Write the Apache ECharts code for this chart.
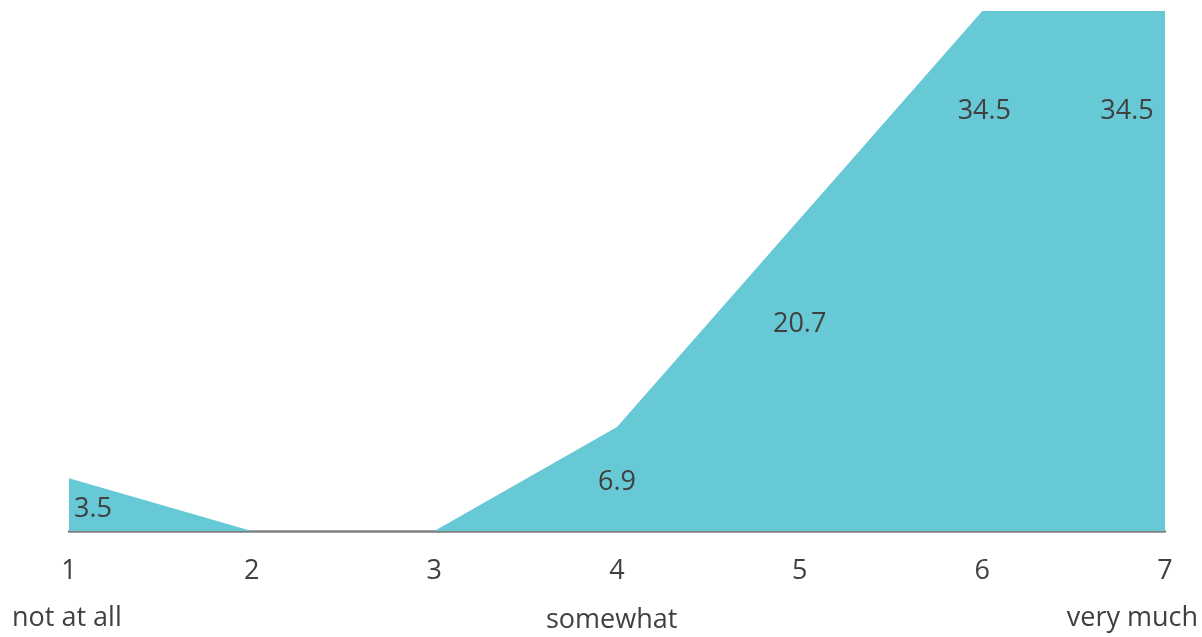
<!DOCTYPE html>
<html>
<head>
<meta charset="utf-8">
<script src="https://cdn.jsdelivr.net/npm/echarts@6/dist/echarts.min.js"></script>
<style>html,body{margin:0;padding:0;background:#fff;}#c{width:1202px;height:637px;}</style>
</head>
<body>
<div id="c"></div>
<script>
const categories = ['1', '2', '3', '4', '5', '6', '7'];
const values = [3.5, 0, 0, 6.9, 20.7, 34.5, 34.5];
const scaleLabels = ['not at all', 'somewhat', 'very much'];
const labelOffsets = [[24, 31], [0, 0], [0, 0], [0, 55], [0, 105], [2, 100], [-38, 100]];

const FONT = '"Open Sans", sans-serif';
const TXT = '#404040';

const seriesData = values.map((v, i) => ({
  value: v,
  label: {
    show: v !== 0,
    position: 'inside',
    offset: labelOffsets[i]
  }
}));

const chart = echarts.init(document.getElementById('c'), null, {renderer: 'canvas'});
chart.setOption({
  animation: false,
  grid: {left: 69, right: 37, top: 11, bottom: 106},
  xAxis: {
    type: 'category',
    data: categories,
    boundaryGap: false,
    axisLine: {lineStyle: {color: '#808080', width: 2.5}},
    axisTick: {show: false},
    splitLine: {show: false},
    axisLabel: {color: TXT, fontSize: 27, fontFamily: FONT, margin: 27}
  },
  yAxis: {
    type: 'value', min: 0, max: 34.5, show: false, splitLine: {show: false}
  },
  series: [{
    type: 'line',
    data: seriesData,
    symbol: 'circle',
    symbolSize: 0,
    showSymbol: true,
    z: 1,
    lineStyle: {width: 0, color: '#67C8D6'},
    itemStyle: {color: '#67C8D6'},
    areaStyle: {color: '#67C8D6', opacity: 1},
    label: {color: TXT, fontSize: 27, fontFamily: FONT}
  }],
  graphic: [
    {type: 'text', left: 12, top: 605, style: {text: scaleLabels[0], fill: TXT, font: '27px ' + FONT}},
    {type: 'text', left: 546, top: 607, style: {text: scaleLabels[1], fill: TXT, font: '27px ' + FONT}},
    {type: 'text', right: 4, top: 605, style: {text: scaleLabels[2], fill: TXT, font: '27px ' + FONT}}
  ]
});
</script>
</body>
</html>
